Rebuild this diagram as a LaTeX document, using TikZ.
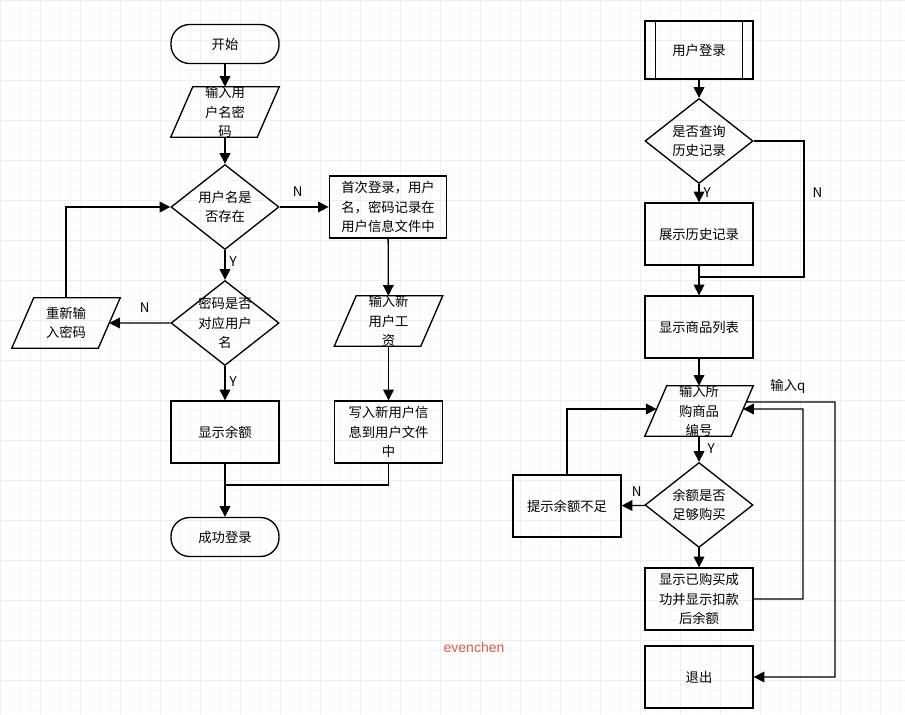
\documentclass[tikz,border=0pt]{standalone}
\usepackage{fontspec}
\setmainfont{Noto Sans CJK SC}
\newfontfamily\markfont{Liberation Sans}
\usetikzlibrary{arrows.meta,calc,shapes.geometric}
\definecolor{markred}{RGB}{226,88,76}
\newcommand{\cjtext}[1]{\smash{\raisebox{-0.34em}{\begin{tabular}{@{}c@{}}#1\end{tabular}}}}
\newcommand{\ioshape}[1]{\draw[flowline] ([xshift=16.5pt]#1.north west) -- (#1.north east) -- ([xshift=-16.5pt]#1.south east) -- (#1.south west) -- cycle;}

\tikzset{
  every node/.style={font=\fontsize{10}{14.5}\selectfont, inner sep=0pt},
  flowline/.style={line width=1pt},
  arr/.style={flowline, -{Triangle[length=8pt,width=8pt]}},
  termbox/.style={draw, flowline, rectangle, rounded corners=14pt, minimum width=81pt, minimum height=29.25pt},
  procbox/.style={draw, flowline, rectangle, minimum width=81pt, minimum height=46.5pt},
  subbox/.style={draw, flowline, rectangle, minimum width=81pt, minimum height=43.5pt},
  iobox/.style={rectangle, minimum width=81pt, minimum height=37.5pt},
  askbox/.style={draw, flowline, diamond, minimum width=81pt, minimum height=63.75pt},
  gridminor/.style={draw=gray!7, line width=0.4pt},
  gridmajor/.style={draw=gray!13, line width=0.4pt}
}

\begin{document}
\begin{tikzpicture}[x=0.75pt, y=-0.75pt]
  % paper with grid
  \useasboundingbox (0,0) rectangle (905,714);
  \fill[white] (0,0) rectangle (905,714);
  \draw[gridminor, step=7.5pt] (0,0) grid (905,714);
  \draw[gridmajor, step=30pt] (0,0) grid (905,714);

  % left chart: login
  \node[termbox] (start) at (225,44) {\cjtext{开始}};
  \node[iobox] (inpw) at (225,112) {\cjtext{输入用\\户名密\\码}};
  \ioshape{inpw}
  \node[askbox] (uexist) at (225,207) {\cjtext{用户名是\\否存在}};
  \node[procbox, minimum width=88pt] (firstreg) at (388,207) {\cjtext{首次登录，用户\\名，密码记录在\\用户信息文件中}};
  \node[askbox] (pwok) at (225,323) {\cjtext{密码是否\\对应用户\\名}};
  \node[iobox] (retry) at (66,323) {\cjtext{重新输\\入密码}};
  \ioshape{retry}
  \node[iobox] (newsal) at (388.5,321) {\cjtext{输入新\\用户工\\资}};
  \ioshape{newsal}
  \node[procbox] (balance) at (225,432) {\cjtext{显示余额}};
  \node[procbox] (writeinfo) at (388.5,432) {\cjtext{写入新用户信\\息到用户文件\\中}};
  \node[termbox] (done) at (225,537) {\cjtext{成功登录}};
  \coordinate (retryr) at ($(retry.north east)!0.5!([xshift=-16.5pt]retry.south east)$);
  \coordinate (lmerge) at (225,485);

  \draw[arr] (start) -- (inpw);
  \draw[arr] (inpw) -- (uexist);
  \draw[arr] (uexist) -- node[above=7.5pt, pos=0.37] {N} (firstreg);
  \draw[arr] (uexist) -- node[right=3pt, pos=0.4] {Y} (pwok);
  \draw[arr] (pwok) -- node[above=7.5pt, pos=0.42] {N} (retryr);
  \draw[arr] (retry.north) |- (uexist.west);
  \draw[arr] (pwok) -- node[right=3pt, pos=0.46] {Y} (balance);
  \draw[arr] (firstreg) -- (newsal);
  \draw[arr] (newsal) -- (writeinfo);
  \draw[arr] (balance) -- (done);
  \draw[flowline] (writeinfo.south) |- (lmerge);

  % right chart: shopping
  \node[subbox] (login) at (699,50) {\cjtext{用户登录}};
  \draw[flowline] ([xshift=8.25pt]login.north west) -- ([xshift=8.25pt]login.south west);
  \draw[flowline] ([xshift=-8.25pt]login.north east) -- ([xshift=-8.25pt]login.south east);
  \node[askbox] (askhist) at (699,141) {\cjtext{是否查询\\历史记录}};
  \node[procbox] (showhist) at (699,234) {\cjtext{展示历史记录}};
  \node[procbox] (goods) at (699,327) {\cjtext{显示商品列表}};
  \node[iobox] (pick) at (699,411) {\cjtext{输入所\\购商品\\编号}};
  \ioshape{pick}
  \node[askbox] (enough) at (699,505) {\cjtext{余额是否\\足够购买}};
  \node[procbox] (lowbal) at (567,506) {\cjtext{提示余额不足}};
  \node[procbox] (buyok) at (699,599) {\cjtext{显示已购买成\\功并显示扣款\\后余额}};
  \node[procbox] (quit) at (699,677) {\cjtext{退出}};
  \coordinate (hturn) at (804,277);
  \coordinate (hmerge) at (699,277);
  \coordinate (pickl) at ($(pick.south west)!0.54!([xshift=16.5pt]pick.north west)$);
  \coordinate (pickr) at ($([xshift=-16.5pt]pick.south east)!0.54!(pick.north east)$);
  \coordinate (pickq) at ($([xshift=-16.5pt]pick.south east)!0.68!(pick.north east)$);
  \coordinate (loopx) at (803,409);
  \coordinate (quitx) at (835,402);

  \draw[arr] (login) -- (askhist);
  \draw[arr] (askhist) -- node[right=3pt, pos=0.45] {Y} (showhist);
  \draw[flowline] (askhist.east) -| node[right=6pt, pos=0.69] {N} (hturn) -- (hmerge);
  \draw[arr] (showhist) -- (goods);
  \draw[arr] (goods) -- (pick);
  \draw[arr] (pick) -- node[right=6pt, pos=0.5] {Y} (enough);
  \draw[arr] (enough) -- node[above=6pt, pos=0.35] {N} (lowbal);
  \draw[arr] (lowbal.north) |- (pickl);
  \draw[arr] (enough) -- (buyok);
  \draw[arr] (buyok.east) -| (loopx) -- (pickr);
  \draw[arr] (pickq) -- node[above=6pt, pos=0.47] {输入q} (quitx) |- (quit.east);

  % watermark
  \node[text=markred, font=\markfont\fontsize{10.5}{12}\selectfont] (mark) at (474,647) {evenchen};
\end{tikzpicture}
\end{document}
